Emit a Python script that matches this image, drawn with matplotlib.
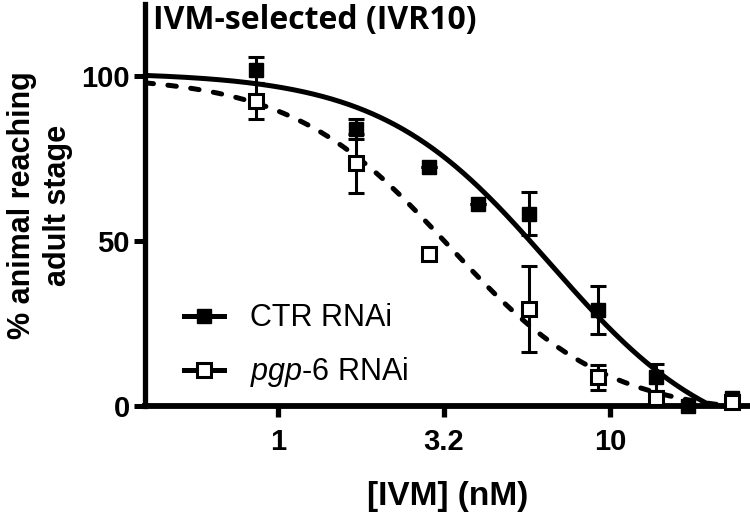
import numpy as np
import matplotlib.pyplot as plt
from matplotlib.lines import Line2D

plt.rcParams['font.family'] = ['Liberation Sans Narrow', 'Liberation Sans', 'DejaVu Sans']
plt.rcParams['mathtext.fontset'] = 'custom'
plt.rcParams['mathtext.it'] = 'Liberation Sans:italic'
plt.rcParams['mathtext.rm'] = 'Liberation Sans'

# data
conc_ctr = [0.86, 1.72, 2.85, 4.0, 5.7, 9.2, 13.8, 17.2, 23.3]
ctr_mean = [101.7, 83.8, 72.4, 61.1, 58.1, 29.0, 8.6, 0.0, 2.2]
ctr_err = [4.0, 3.0, 0.0, 0.0, 6.5, 7.3, 4.0, 0.0, 0.0]

conc_pgp = [0.86, 1.72, 2.85, 5.7, 9.2, 13.8, 23.3]
pgp_mean = [92.4, 73.4, 46.0, 29.3, 8.6, 2.2, 1.0]
pgp_err = [5.5, 9.0, 0.0, 13.0, 3.8, 0.0, 0.0]

# fitted dose-response curves (top, bottom, logEC50, hill)
ctr_fit = [101, -15, 0.82, 1.71]
pgp_fit = [100, -3, 0.514, 1.82]

xtick_vals = [1, 10 ** 0.5, 10]
xtick_labels = ['1', '3.2', '10']
ytick_vals = [0, 50, 100]


def four_pl(x, top, bottom, logec50, hill):
    return bottom + (top - bottom) / (1 + 10 ** ((np.log10(x) - logec50) * hill))


fig = plt.figure(figsize=(7.5, 5.19), dpi=100)
ax = fig.add_axes([145 / 750, 1 - 405.7 / 519, 1 - 145 / 750, (405.7 - 4) / 519])

xmin, xmax = 0.398, 26.4
xs = np.logspace(np.log10(xmin), np.log10(xmax), 400)

ax.plot(xs, four_pl(xs, *ctr_fit), color='black', lw=3.6, solid_capstyle='butt', zorder=2)
ax.plot(xs, four_pl(xs, *pgp_fit), color='black', lw=3.6, dashes=(1.7, 2.9),
        dash_capstyle='round', zorder=2)

ax.errorbar(conc_ctr, ctr_mean, yerr=ctr_err, fmt='s', ms=10.5, color='black',
            mfc='black', mec='black', elinewidth=2.2, capsize=5.5, capthick=2.2, zorder=4)
ax.errorbar(conc_pgp, pgp_mean, yerr=pgp_err, fmt='s', ms=10, color='black',
            mfc='white', mec='black', mew=2.2, elinewidth=2.2, capsize=5.5, capthick=2.2,
            zorder=5)
for ln in ax.lines:
    if ln.get_marker() == 's':
        ln.set_clip_on(False)

ax.set_xscale('log')
ax.set_xlim(xmin, xmax)
ax.set_ylim(0, 121.7)
ax.set_xticks(xtick_vals)
ax.set_xticklabels(xtick_labels)
ax.xaxis.set_minor_locator(plt.NullLocator())
ax.set_yticks(ytick_vals)

for s in ['top', 'right']:
    ax.spines[s].set_visible(False)
ax.spines['left'].set_linewidth(3.8)
ax.spines['bottom'].set_linewidth(4.2)
ax.tick_params(axis='y', length=8, width=3.6, pad=3, labelsize=21)
ax.tick_params(axis='x', length=8, width=3.8, pad=8, labelsize=21)
for lab in ax.get_xticklabels() + ax.get_yticklabels():
    lab.set_fontweight('bold')

ax.set_xlabel('[IVM] (nM)', fontsize=24, fontweight='bold', labelpad=18)

fig.text(40 / 750, 1 - 205 / 519, '% animal reaching\nadult stage', fontsize=22,
         fontweight='bold', rotation=90, ha='center', va='center', multialignment='center',
         linespacing=1.25)

fig.text(153 / 750, 1 - 21 / 519, 'IVM-selected (IVR10)', fontsize=23, fontweight='bold',
         family=['Open Sans', 'DejaVu Sans'], ha='left', va='center')

handles = [
    Line2D([], [], color='black', lw=3.6, marker='s', ms=10.5, mfc='black', mec='black'),
    Line2D([], [], color='black', lw=3.6, marker='s', ms=10, mfc='white', mec='black', mew=2.2),
]
labels = ['CTR RNAi', r'$\mathit{pgp}$-$\mathit{6}$ RNAi']
ax.legend(handles, labels, loc='upper left', bbox_to_anchor=(0.045, 0.285), frameon=False,
          prop={'family': ['Liberation Sans', 'DejaVu Sans'], 'size': 22},
          handlelength=1.3, handletextpad=0.85, labelspacing=0.72, borderaxespad=0)

fig.savefig('out.png', dpi=100)
